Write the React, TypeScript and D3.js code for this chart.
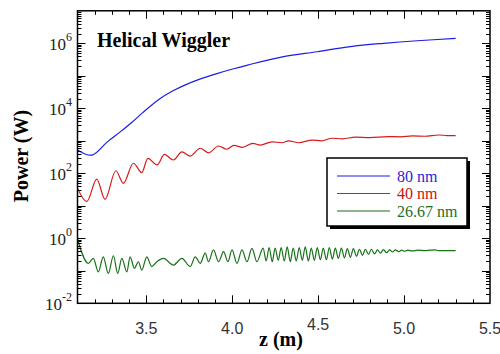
import React, { useEffect, useRef } from 'react';
import * as d3 from 'd3';

// 80 nm (blue)
const blueZ = [3.1, 3.183, 3.272, 3.352, 3.419, 3.478, 3.575, 3.653, 3.731, 3.808, 3.906, 4.003, 4.09, 4.299, 4.494, 4.688, 4.882, 5.077, 5.3];
const bluePower = [525, 363, 912, 1950, 3800, 7240, 19000, 33900, 53700, 77600, 115000, 162000, 214000, 389000, 550000, 794000, 1000000, 1200000, 1410000];

// 40 nm (red)
const redZ = [3.1, 3.154, 3.212, 3.26, 3.323, 3.367, 3.425, 3.474, 3.509, 3.563, 3.606, 3.658, 3.707, 3.756, 3.814, 3.862, 3.921, 3.969, 4.01, 4.06, 4.12, 4.164, 4.232, 4.29, 4.328, 4.387, 4.465, 4.52, 4.581, 4.64, 4.717, 4.8, 4.909, 4.98, 5.048, 5.12, 5.203, 5.25, 5.3];
const redPower = [34.7, 13.5, 66, 15.8, 120, 49, 204, 105, 288, 182, 380, 257, 457, 339, 589, 427, 692, 550, 724, 631, 832, 741, 933, 871, 1000, 871, 1050, 1000, 1200, 1150, 1290, 1260, 1350, 1320, 1410, 1380, 1510, 1450, 1450];

// 26.67 nm (green)
const greenZ = [
  3.1, 3.163, 3.192, 3.221, 3.25, 3.279, 3.309, 3.334, 3.358, 3.387, 3.406, 3.431, 3.454, 3.474, 3.503, 3.532, 3.562, 3.6, 3.658, 3.707,
  3.756, 3.785, 3.814, 3.843, 3.862, 3.891, 3.921, 3.95, 3.975, 3.999, 4.028, 4.057, 4.086, 4.115, 4.144,
  4.18, 4.198, 4.215, 4.233, 4.25, 4.268, 4.285, 4.303, 4.32, 4.338, 4.355, 4.373, 4.39, 4.408, 4.425, 4.443, 4.46, 4.478, 4.495, 4.513,
  4.53, 4.548, 4.565, 4.583, 4.6, 4.618, 4.635, 4.653, 4.67, 4.688, 4.705, 4.723, 4.74, 4.758, 4.775, 4.793, 4.81, 4.828, 4.845, 4.863,
  4.88, 4.898, 4.915, 4.933, 4.95, 4.968, 4.985, 5.003, 5.02, 5.05, 5.08, 5.12, 5.15, 5.18, 5.2, 5.25, 5.3,
];
const greenPower = [
  0.95, 0.17, 0.24, 0.093, 0.27, 0.083, 0.29, 0.083, 0.24, 0.093, 0.27, 0.12, 0.19, 0.105, 0.27, 0.135, 0.19, 0.24, 0.15, 0.24,
  0.135, 0.27, 0.17, 0.35, 0.19, 0.44, 0.19, 0.39, 0.19, 0.44, 0.17, 0.44, 0.19, 0.49, 0.19,
  0.5, 0.2, 0.52, 0.19, 0.5, 0.21, 0.52, 0.2, 0.55, 0.19, 0.5, 0.2, 0.52, 0.21, 0.55, 0.2, 0.5, 0.21, 0.52, 0.22,
  0.5, 0.22, 0.52, 0.23, 0.5, 0.24, 0.5, 0.25, 0.48, 0.26, 0.48, 0.28, 0.46, 0.3, 0.46, 0.32, 0.46, 0.33, 0.44, 0.35,
  0.45, 0.36, 0.44, 0.38, 0.44, 0.39, 0.43, 0.4, 0.43, 0.41, 0.43, 0.42, 0.43, 0.44, 0.42, 0.42, 0.42,
];

const xTickValues = [3.5, 4.0, 4.5, 5.0, 5.5];
const xTickLabels = ['3.5', '4.0', '4.5', '5.0', '5.5'];
const yLabelExponents = [-2, 0, 2, 4, 6];
const legendLabels = ['80 nm', '40 nm', '26.67 nm'];
const seriesColors = ['#1c1ce6', '#d81a1a', '#177117'];
const legendTextColors = ['#2626d9', '#cc1111', '#1d6e1d'];

export default function App() {
  const svgRef = useRef<SVGSVGElement>(null);

  useEffect(() => {
    if (!svgRef.current) return;
    const svg = d3.select(svgRef.current);
    svg.selectAll('*').remove();

    const left = 77.5, right = 490, top = 10.8, bottom = 303.3;
    const x = d3.scaleLinear().domain([3.1, 5.5]).range([left, right]);
    const y = d3.scaleLog().domain([1e-2, 1e7]).range([bottom, top]);
    const serif = "'Liberation Serif', 'Times New Roman', 'DejaVu Serif', serif";
    const sans = "'Liberation Sans', Arial, sans-serif";

    svg.append('rect').attr('width', 500).attr('height', 354).attr('fill', '#fff');

    svg.append('defs').append('clipPath').attr('id', 'plot')
      .append('rect').attr('x', left).attr('y', top).attr('width', right - left).attr('height', bottom - top);

    // curves
    const series = [
      { z: blueZ, p: bluePower, curve: d3.curveCatmullRom.alpha(0.5) },
      { z: redZ, p: redPower, curve: d3.curveMonotoneX },
      { z: greenZ, p: greenPower, curve: d3.curveMonotoneX },
    ];
    series.forEach((s, i) => {
      const line = d3.line<[number, number]>()
        .x((d) => x(d[0]))
        .y((d) => y(d[1]))
        .curve(s.curve);
      const pts = s.z.map((z, j) => [z, s.p[j]] as [number, number]);
      svg.append('path')
        .attr('d', line(pts))
        .attr('fill', 'none')
        .attr('stroke', seriesColors[i])
        .attr('stroke-width', 1.2)
        .attr('clip-path', 'url(#plot)');
    });

    // x ticks, bottom and top
    const ticks = svg.append('g').attr('stroke', '#000').attr('stroke-width', 1);
    d3.range(32, 55).forEach((k) => {
      const v = k / 10;
      const major = k % 5 === 0;
      const len = major ? 8 : 4;
      const px = Math.round(x(v)) + 0.5;
      ticks.append('line').attr('x1', px).attr('x2', px).attr('y1', bottom).attr('y2', bottom - len);
      ticks.append('line').attr('x1', px).attr('x2', px).attr('y1', top).attr('y2', top + len);
    });

    // y ticks, left and right (log)
    for (let e = -2; e <= 6; e++) {
      for (let m = 1; m <= 9; m++) {
        const v = m * Math.pow(10, e);
        const len = m === 1 ? 8 : 4;
        const py = Math.round(y(v)) + 0.5;
        ticks.append('line').attr('x1', left).attr('x2', left + len).attr('y1', py).attr('y2', py);
        ticks.append('line').attr('x1', right).attr('x2', right - len).attr('y1', py).attr('y2', py);
      }
    }

    // frame
    svg.append('rect')
      .attr('x', left).attr('y', top)
      .attr('width', right - left).attr('height', bottom - top)
      .attr('fill', 'none').attr('stroke', '#000').attr('stroke-width', 1.5);

    // x tick labels
    xTickValues.forEach((v, i) => {
      svg.append('text')
        .attr('x', x(v))
        .attr('y', v === 4.5 ? 330 : 334)
        .attr('text-anchor', 'middle')
        .style('font-family', sans)
        .attr('font-size', 16)
        .attr('fill', '#333')
        .text(xTickLabels[i]);
    });

    // y tick labels
    yLabelExponents.forEach((e) => {
      const t = svg.append('text')
        .attr('x', 72)
        .attr('y', y(Math.pow(10, e)) + 6.5)
        .attr('text-anchor', 'end')
        .style('font-family', serif)
        .attr('font-size', 17)
        .attr('fill', '#222');
      t.append('tspan').text('10');
      t.append('tspan').attr('dy', -9).attr('font-size', 12).text(String(e));
    });

    // axis titles
    svg.append('text')
      .attr('x', 281).attr('y', 346)
      .attr('text-anchor', 'middle')
      .style('font-family', serif).attr('font-size', 20).attr('font-weight', 'bold')
      .text('z (m)');
    svg.append('text')
      .attr('transform', 'translate(28,156) rotate(-90)')
      .attr('text-anchor', 'middle')
      .style('font-family', serif).attr('font-size', 20).attr('font-weight', 'bold')
      .text('Power (W)');

    // title
    svg.append('text')
      .attr('x', 97).attr('y', 47)
      .style('font-family', serif).attr('font-size', 20).attr('font-weight', 'bold')
      .text('Helical Wiggler');

    // legend
    const lg = svg.append('g');
    lg.append('rect').attr('x', 330).attr('y', 161).attr('width', 140).attr('height', 68).attr('fill', '#000');
    lg.append('rect').attr('x', 327).attr('y', 158).attr('width', 140).attr('height', 68)
      .attr('fill', '#fff').attr('stroke', '#000').attr('stroke-width', 1.5);
    legendLabels.forEach((label, i) => {
      const ly = 176 + i * 17.5;
      lg.append('line').attr('x1', 337).attr('x2', 390).attr('y1', ly).attr('y2', ly)
        .attr('stroke', seriesColors[i]).attr('stroke-width', 1.2);
      lg.append('text').attr('x', 397).attr('y', ly + 5.5)
        .style('font-family', serif).attr('font-size', 16)
        .attr('fill', legendTextColors[i])
        .text(label);
    });
  }, []);

  return (
    <svg
      ref={svgRef}
      width={500}
      height={354}
      style={{ position: 'absolute', left: 0, top: 0 }}
    />
  );
}
